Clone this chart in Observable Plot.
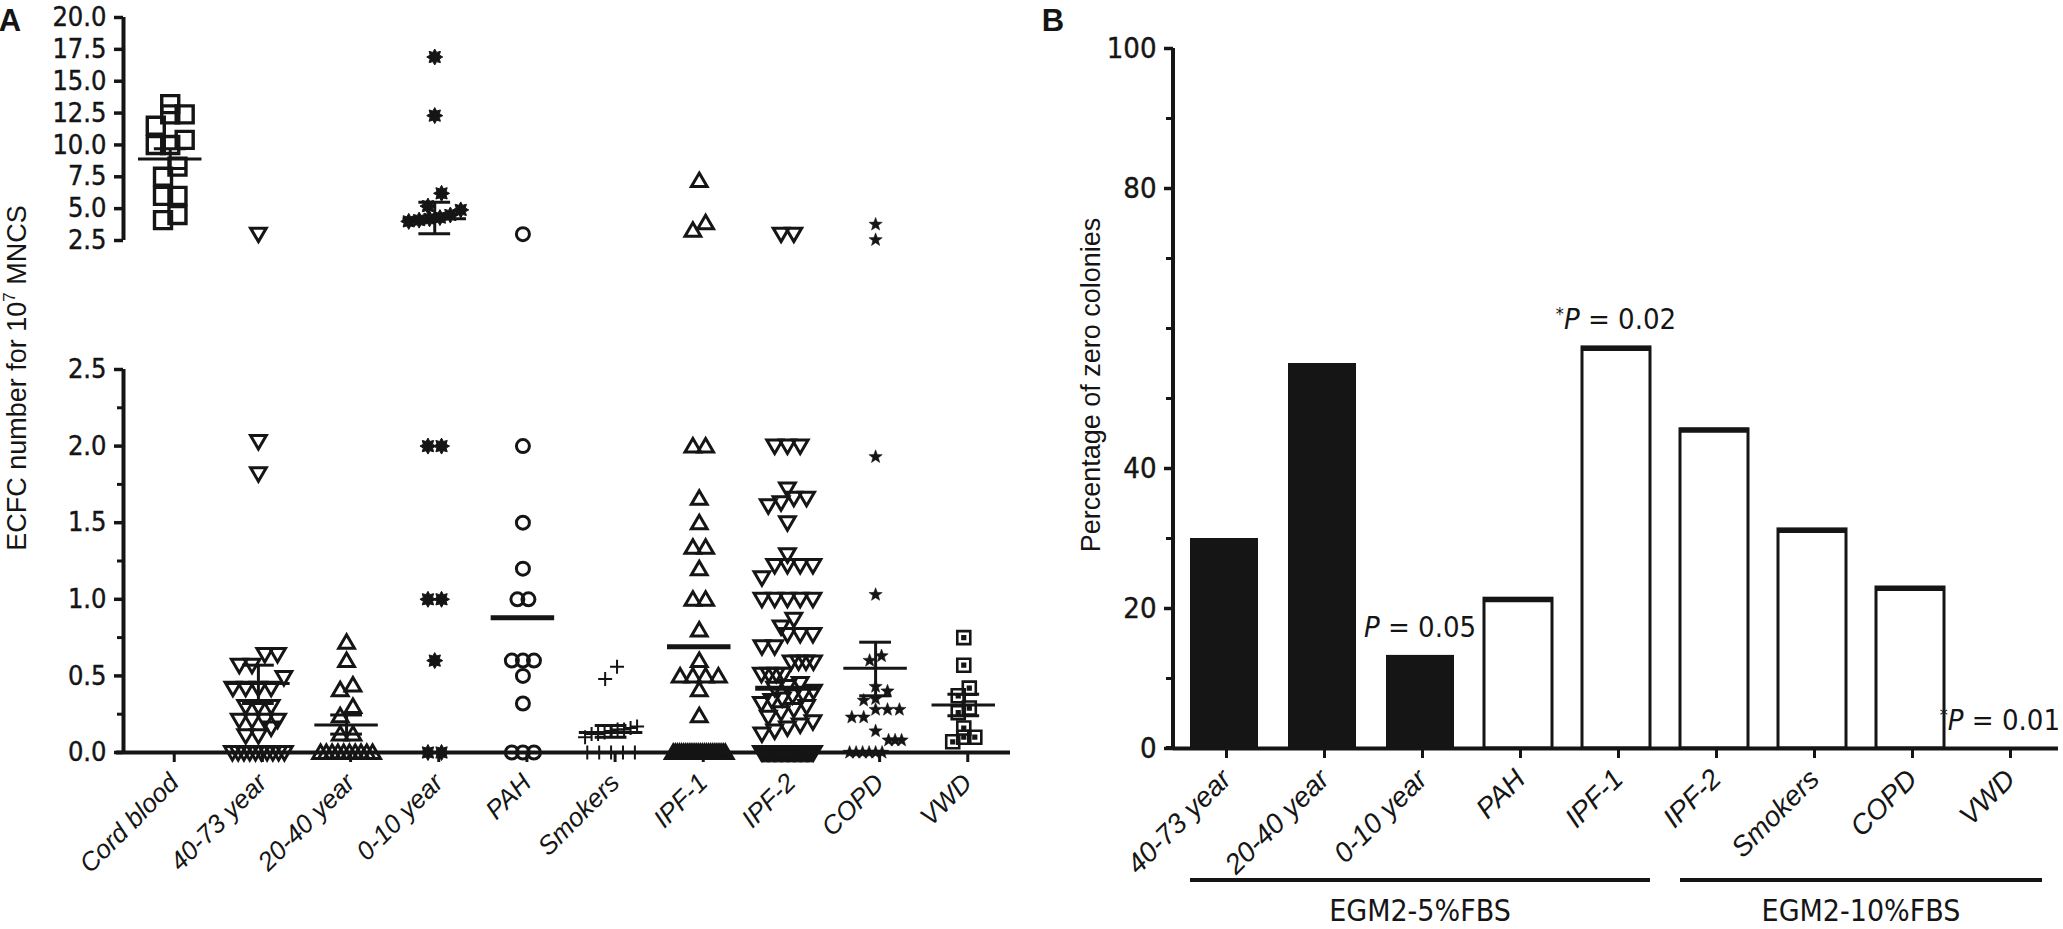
<!DOCTYPE html>
<html><head><meta charset="utf-8">
<script src="https://cdn.jsdelivr.net/npm/d3@7"></script>
<script src="https://cdn.jsdelivr.net/npm/@observablehq/plot@0.6"></script>
<style>
html,body{margin:0;padding:0;background:#fff;overflow:hidden;}
#root{position:relative;width:2063px;height:929px;overflow:hidden;background:#fff;}
#root svg{position:absolute;left:0;top:0;background:transparent !important;overflow:visible;max-width:none !important;}
</style></head><body><div id="root"></div>
<script>
// ---------------- DATA: panel A (ECFC number for 10^7 MNCs) ----------------
const categoriesA = ["Cord blood","40-73 year","20-40 year","0-10 year","PAH","Smokers","IPF-1","IPF-2","COPD","VWD"];
const cordBlood = [13.2, 12.4, 12.4, 11.5, 10.4, 10.0, 10.0, 8.3, 7.5, 6.0, 6.0, 4.5, 4.1];
const age40to73 = [3.0, 2.03, 1.82, 0.64, 0.64, 0.57, 0.57, 0.49, 0.42, 0.42, 0.42, 0.42, 0.3, 0.3, 0.3, 0.21, 0.21, 0.21, 0.21, 0.16, 0.11, 0.11];
const age20to40 = [0.72, 0.6, 0.44, 0.41, 0.3, 0.24, 0.12, 0.12];
const age0to10 = [16.9, 12.3, 6.2, 5.2, 4.9, 4.5, 4.3, 4.2, 4.1, 4.0, 2.0, 2.0, 1.0, 1.0, 0.6];
const pah = [3.0, 2.0, 1.5, 1.2, 1.0, 1.0, 0.6, 0.6, 0.6, 0.5, 0.32];
const smokers = [0.56, 0.48, 0.17, 0.16, 0.15, 0.15, 0.14, 0.13, 0.12, 0.12, 0.1];
const ipf1 = [7.2, 3.9, 3.3, 2.0, 2.0, 1.66, 1.5, 1.34, 1.34, 1.2, 1.0, 1.0, 0.8, 0.6, 0.5, 0.5, 0.5, 0.5, 0.41, 0.24];
const ipf2 = [3.0, 3.0, 2.0, 2.0, 2.0, 1.72, 1.66, 1.66, 1.63, 1.61, 1.5, 1.29, 1.22, 1.22, 1.22, 1.22, 1.14,
  1.0, 1.0, 1.0, 1.0, 1.0, 0.87, 0.82, 0.77, 0.77, 0.77, 0.69, 0.69, 0.59, 0.59, 0.59, 0.59, 0.51, 0.51, 0.51, 0.51,
  0.45, 0.43, 0.42, 0.4, 0.38, 0.37, 0.35, 0.34, 0.32, 0.3, 0.28, 0.26, 0.23, 0.2, 0.18, 0.16, 0.14, 0.12];
const copd = [3.76, 2.55, 1.93, 1.03, 0.63, 0.6, 0.43, 0.4, 0.35, 0.34, 0.28, 0.28, 0.28, 0.23, 0.23, 0.14, 0.08, 0.08, 0.08];
const vwd = [0.75, 0.57, 0.42, 0.37, 0.29, 0.26, 0.16, 0.1, 0.1, 0.07];
const zeroCounts = [0, 10, 10, 2, 3, 5, 26, 45, 6, 0];
const meanA = [8.9, 0.45, 0.18, 4.2, 0.88, 0.13, 0.69, 0.42, 0.55, 0.31];
const semLowA = [8.15, 0.32, 0.12, 3.03, null, 0.10, null, null, 0.37, 0.24];
const semHighA = [9.7, 0.57, 0.245, 5.5, null, 0.176, null, null, 0.72, 0.38];
const upperTicks = [2.5, 5, 7.5, 10, 12.5, 15, 17.5, 20];
const lowerTicks = [0, 0.5, 1, 1.5, 2, 2.5];
const lowerMinorTicks = [0.25, 0.75, 1.25, 1.75, 2.25];

// ---------------- DATA: panel B (percentage of zero colonies) ----------------
const categoriesB = ["40-73 year","20-40 year","0-10 year","PAH","IPF-1","IPF-2","Smokers","COPD","VWD"];
const zeroPercent = [30, 55, 13.3, 21.4, 57.3, 45.6, 31.3, 23, 0];
const darkCats = ["40-73 year","20-40 year","0-10 year"];
const bTickLabels = [0, 20, 40, 80, 100];
const bOtherTicks = [10, 30, 50, 60, 70, 90];
const pCats = ["0-10 year","IPF-1","VWD"];
const pTexts = ["0.05","0.02","0.01"];
const pStar = [false, true, true];
const groupLabels = ["EGM2-5%FBS","EGM2-10%FBS"];
const groupFirst = ["40-73 year","IPF-2"];
const groupLast = ["IPF-1","VWD"];

// ---------------- style / layout ----------------
const ink = "#151515";
const narrow = "'Liberation Sans Narrow','Arial Narrow','DejaVu Sans Condensed',sans-serif";
const sans = "'Liberation Sans',Arial,Helvetica,sans-serif";
const W_A = 1040, H = 929;
const aLeft = 123, aRight = 1010, upTop = 17, upBottom = 240, loTop = 369, loBottom = 752;
const xDomainA = [-0.53, 9.53];
const stepA = (aRight - aLeft) / (xDomainA[1] - xDomainA[0]);

function sym(fn){ return {draw(ctx, size){ fn(ctx, Math.sqrt(size / Math.PI)); }}; }
const symSquare = sym((c,r)=>{ c.rect(-r,-r,2*r,2*r); });
const symSquareDot = sym((c,r)=>{ c.rect(-r,-r,2*r,2*r); const q=r*0.2; c.rect(-q,-q,2*q,2*q); });
const symTriUp = sym((c,r)=>{ c.moveTo(0,-r); c.lineTo(r*1.05,r*0.8); c.lineTo(-r*1.05,r*0.8); c.closePath(); });
const symTriDown = sym((c,r)=>{ c.moveTo(0,r); c.lineTo(r*1.05,-r*0.8); c.lineTo(-r*1.05,-r*0.8); c.closePath(); });
const symCircle = sym((c,r)=>{ c.moveTo(r,0); c.arc(0,0,r,0,2*Math.PI); });
const symPlus = sym((c,r)=>{ c.moveTo(-r,0); c.lineTo(r,0); c.moveTo(0,-r); c.lineTo(0,r); });
const symBurst = sym((c,r)=>{ for(let k=0;k<16;k++){ const a=k*Math.PI/8 - Math.PI/2, rr = k%2? r*0.62 : r; k? c.lineTo(rr*Math.cos(a), rr*Math.sin(a)) : c.moveTo(rr*Math.cos(a), rr*Math.sin(a)); } c.closePath(); });
const symStar = sym((c,r)=>{ for(let k=0;k<10;k++){ const a=k*Math.PI/5 - Math.PI/2, rr = k%2? r*0.42 : r; k? c.lineTo(rr*Math.cos(a), rr*Math.sin(a)) : c.moveTo(rr*Math.cos(a), rr*Math.sin(a)); } c.closePath(); });

const symStyles = [
  {sym: symSquare, r: 8.5, fill: "none", sw: 3.4},
  {sym: symTriDown, r: 7.5, fill: "none", sw: 3},
  {sym: symTriUp, r: 7.5, fill: "none", sw: 3},
  {sym: symBurst, r: 8, fill: ink, sw: 1},
  {sym: symCircle, r: 6.5, fill: "none", sw: 3},
  {sym: symPlus, r: 7, fill: "none", sw: 2},
  {sym: symTriUp, r: 7.5, fill: "none", sw: 3},
  {sym: symTriDown, r: 7.5, fill: "none", sw: 3},
  {sym: symStar, r: 7, fill: ink, sw: 0.5},
  {sym: symSquareDot, r: 6.5, fill: "none", sw: 2.6}
];
const thickMean = [false,false,false,false,true,false,true,true,false,false];

// deterministic scatter-dot layout (spread points that share a row)
const yUpperPx = d3.scaleLinear([2.5, 20], [upBottom, upTop]);
const yLowerPx = d3.scaleLinear([0, 2.5], [loBottom, loTop]);
function spread(values, ypx, r){
  const items = values.map(v => ({v, py: ypx(v)})).sort((a,b) => b.py - a.py);
  const rows = []; let cur = null;
  for (const it of items){
    if (cur && Math.abs(it.py - cur.start) <= 1.8*r) cur.items.push(it);
    else { cur = {start: it.py, items: [it]}; rows.push(cur); }
  }
  for (const row of rows){
    const n = row.items.length;
    const sp = n > 1 ? Math.min(1.7*r, 52/(n-1)) : 0;
    row.items.forEach((it,k) => it.off = (k - (n-1)/2) * sp);
  }
  return items;
}
const valuesA = [cordBlood, age40to73, age20to40, age0to10, pah, smokers, ipf1, ipf2, copd, vwd];
const ptsUp = [], ptsLo = [];
valuesA.forEach((vals, i) => {
  const all = vals.concat(d3.range(zeroCounts[i]).map(() => 0));
  const r = symStyles[i].r;
  spread(all.filter(v => v > 2.5), yUpperPx, r).forEach(p => ptsUp.push({i, v: p.v, x: i + p.off/stepA}));
  spread(all.filter(v => v <= 2.5), yLowerPx, r).forEach(p => ptsLo.push({i, v: p.v, x: i + p.off/stepA}));
});
const stats = categoriesA.map((c,i) => ({i, mean: meanA[i], lo: semLowA[i], hi: semHighA[i], thick: thickMean[i]}));

function dotMarks(pts){
  return symStyles.map((s,i) => Plot.dot(pts.filter(d => d.i === i), {
    x: "x", y: "v", symbol: s.sym, r: s.r, fill: s.fill, stroke: ink, strokeWidth: s.sw, strokeLinejoin: "miter"
  }));
}
function statMarks(st){
  const sem = st.filter(d => d.lo != null);
  return [
    Plot.ruleY(st.filter(d => !d.thick), {y: "mean", x1: d => d.i - 0.36, x2: d => d.i + 0.36, stroke: ink, strokeWidth: 3}),
    Plot.ruleY(st.filter(d => d.thick), {y: "mean", x1: d => d.i - 0.36, x2: d => d.i + 0.36, stroke: ink, strokeWidth: 5}),
    Plot.ruleX(sem, {x: "i", y1: "lo", y2: "hi", stroke: ink, strokeWidth: 3}),
    Plot.ruleY(sem, {y: "lo", x1: d => d.i - 0.18, x2: d => d.i + 0.18, stroke: ink, strokeWidth: 3}),
    Plot.ruleY(sem, {y: "hi", x1: d => d.i - 0.18, x2: d => d.i + 0.18, stroke: ink, strokeWidth: 3})
  ];
}

const root = document.getElementById("root");
const yTickFont = 27;
const tickText = {stroke: ink, fill: ink, textStroke: ink, textStrokeWidth: 0.4, fontFamily: narrow, label: null};

// ---- Panel A, upper segment (2.5 - 20) ----
const upper = Plot.plot({
  width: W_A, height: H, marginLeft: aLeft, marginRight: W_A - aRight, marginTop: upTop, marginBottom: H - upBottom,
  x: {type: "linear", domain: xDomainA, axis: null},
  y: {domain: [2.5, 20], axis: null},
  marks: [
    Plot.axisY({ticks: upperTicks, tickFormat: ".1f", tickSize: 9, tickPadding: 8, strokeWidth: 3.5, fontSize: yTickFont, ...tickText}),
    Plot.ruleX([xDomainA[0]], {y1: 2.5, y2: 20, stroke: ink, strokeWidth: 4}),
    ...dotMarks(ptsUp),
    ...statMarks(stats.filter(d => d.mean > 2.5))
  ]
});
root.appendChild(upper);

// ---- Panel A, lower segment (0 - 2.5) ----
const lower = Plot.plot({
  width: W_A, height: H, marginLeft: aLeft, marginRight: W_A - aRight, marginTop: loTop, marginBottom: H - loBottom,
  x: {type: "linear", domain: xDomainA, axis: null},
  y: {domain: [0, 2.5], axis: null},
  marks: [
    Plot.axisY({ticks: lowerMinorTicks, tickFormat: () => "", tickSize: 6, strokeWidth: 3, stroke: ink, label: null}),
    Plot.axisY({ticks: lowerTicks, tickFormat: ".1f", tickSize: 9, tickPadding: 8, strokeWidth: 3.5, fontSize: yTickFont, ...tickText}),
    Plot.axisX({ticks: d3.range(categoriesA.length), tickFormat: i => categoriesA[i], tickSize: 10, tickRotate: -45,
      tickPadding: 16, dx: 4, strokeWidth: 3, stroke: ink, fill: ink, fontSize: 26, fontFamily: sans, fontStyle: "italic", label: null}),
    Plot.ruleX([xDomainA[0]], {y1: 0, y2: 2.5, stroke: ink, strokeWidth: 4}),
    ...dotMarks(ptsLo),
    Plot.ruleY([0], {x1: xDomainA[0] - 0.08, x2: xDomainA[1], stroke: ink, strokeWidth: 4}),
    ...statMarks(stats.filter(d => d.mean <= 2.5))
  ]
});
root.appendChild(lower);
{
  const s = d3.select(lower);
  const t = s.append("text").attr("transform", "translate(26,378) rotate(-90)").attr("text-anchor", "middle")
    .attr("font-family", sans).attr("font-size", 27).attr("fill", ink);
  t.append("tspan").text("ECFC number for 10");
  t.append("tspan").attr("dy", -11).attr("font-size", 17).text("7");
  t.append("tspan").attr("dy", 11).text(" MNCS");
  s.append("text").attr("x", 10).attr("y", 31).attr("font-family", sans).attr("font-weight", "bold").attr("font-size", 31).attr("fill", ink).text("A");
}

// ---- Panel B ----
const dataB = categoriesB.map((c,i) => ({cat: c, pct: zeroPercent[i]}));
const lightB = dataB.filter(d => !darkCats.includes(d.cat));
const chartB = Plot.plot({
  width: 2063, height: H, marginLeft: 1173, marginRight: 5, marginTop: 48, marginBottom: H - 748,
  x: {type: "band", domain: categoriesB, paddingInner: 0.31, paddingOuter: 0.16, axis: null},
  y: {domain: [0, 100], axis: null},
  marks: [
    Plot.barY(dataB.filter(d => darkCats.includes(d.cat)), {x: "cat", y: "pct", fill: ink}),
    Plot.barY(lightB, {x: "cat", y: "pct", fill: "white", stroke: ink, strokeWidth: 3}),
    Plot.tickY(lightB.filter(d => d.pct > 0), {x: "cat", y: "pct", stroke: ink, strokeWidth: 5, dy: 1}),
    Plot.axisY({ticks: bOtherTicks, tickFormat: () => "", tickSize: 7, strokeWidth: 3, stroke: ink, label: null}),
    Plot.axisY({ticks: bTickLabels, tickSize: 9, tickPadding: 8, strokeWidth: 3.5, fontSize: yTickFont + 2, ...tickText}),
    Plot.axisX({tickSize: 10, tickRotate: -45, tickPadding: 16, dx: 2, strokeWidth: 3, stroke: ink, fill: ink,
      fontSize: 28, fontFamily: sans, fontStyle: "italic", label: null}),
    Plot.ruleY([0], {stroke: ink, strokeWidth: 4})
  ]
});
root.appendChild(chartB);
{
  const s = d3.select(chartB);
  const xB = chartB.scale("x"), yB = chartB.scale("y");
  const bw = xB.bandwidth;
  s.append("line").attr("x1", xB.range[0]).attr("x2", xB.range[0]).attr("y1", yB.apply(0) + 2).attr("y2", yB.apply(100))
    .attr("stroke", ink).attr("stroke-width", 4);
  s.append("line").attr("x1", xB.range[0] - 7).attr("x2", xB.range[0]).attr("y1", yB.apply(0)).attr("y2", yB.apply(0))
    .attr("stroke", ink).attr("stroke-width", 4);
  pCats.forEach((c, k) => {
    const i = categoriesB.indexOf(c);
    const cx = xB.apply(c) + bw / 2;
    const t = s.append("text").attr("x", cx).attr("y", yB.apply(zeroPercent[i]) - 18).attr("text-anchor", "middle")
      .attr("font-family", narrow).attr("font-size", 29).attr("fill", ink);
    if (pStar[k]) t.append("tspan").attr("font-size", 18).attr("dy", -9).text("*");
    t.append("tspan").attr("font-style", "italic").attr("dy", pStar[k] ? 9 : 0).text("P");
    t.append("tspan").text(" = " + pTexts[k]);
    const len = t.node().getComputedTextLength();
    if (cx + len / 2 > 2060) t.attr("x", 2060 - len / 2);
  });
  groupLabels.forEach((g, k) => {
    const x1 = xB.apply(groupFirst[k]), x2 = xB.apply(groupLast[k]) + bw;
    const y = yB.apply(0) + 132;
    s.append("line").attr("x1", x1).attr("x2", x2).attr("y1", y).attr("y2", y).attr("stroke", ink).attr("stroke-width", 4);
    s.append("text").attr("x", (x1 + x2) / 2).attr("y", y + 41).attr("text-anchor", "middle")
      .attr("font-family", narrow).attr("font-size", 30).attr("fill", ink).text(g);
  });
  s.append("text").attr("transform", "translate(1100,385) rotate(-90)").attr("text-anchor", "middle")
    .attr("font-family", sans).attr("font-size", 27).attr("fill", ink).text("Percentage of zero colonies");
  s.append("text").attr("x", 1053).attr("y", 31).attr("font-family", sans).attr("font-weight", "bold").attr("font-size", 31).attr("fill", ink).text("B");
}
</script></body></html>
